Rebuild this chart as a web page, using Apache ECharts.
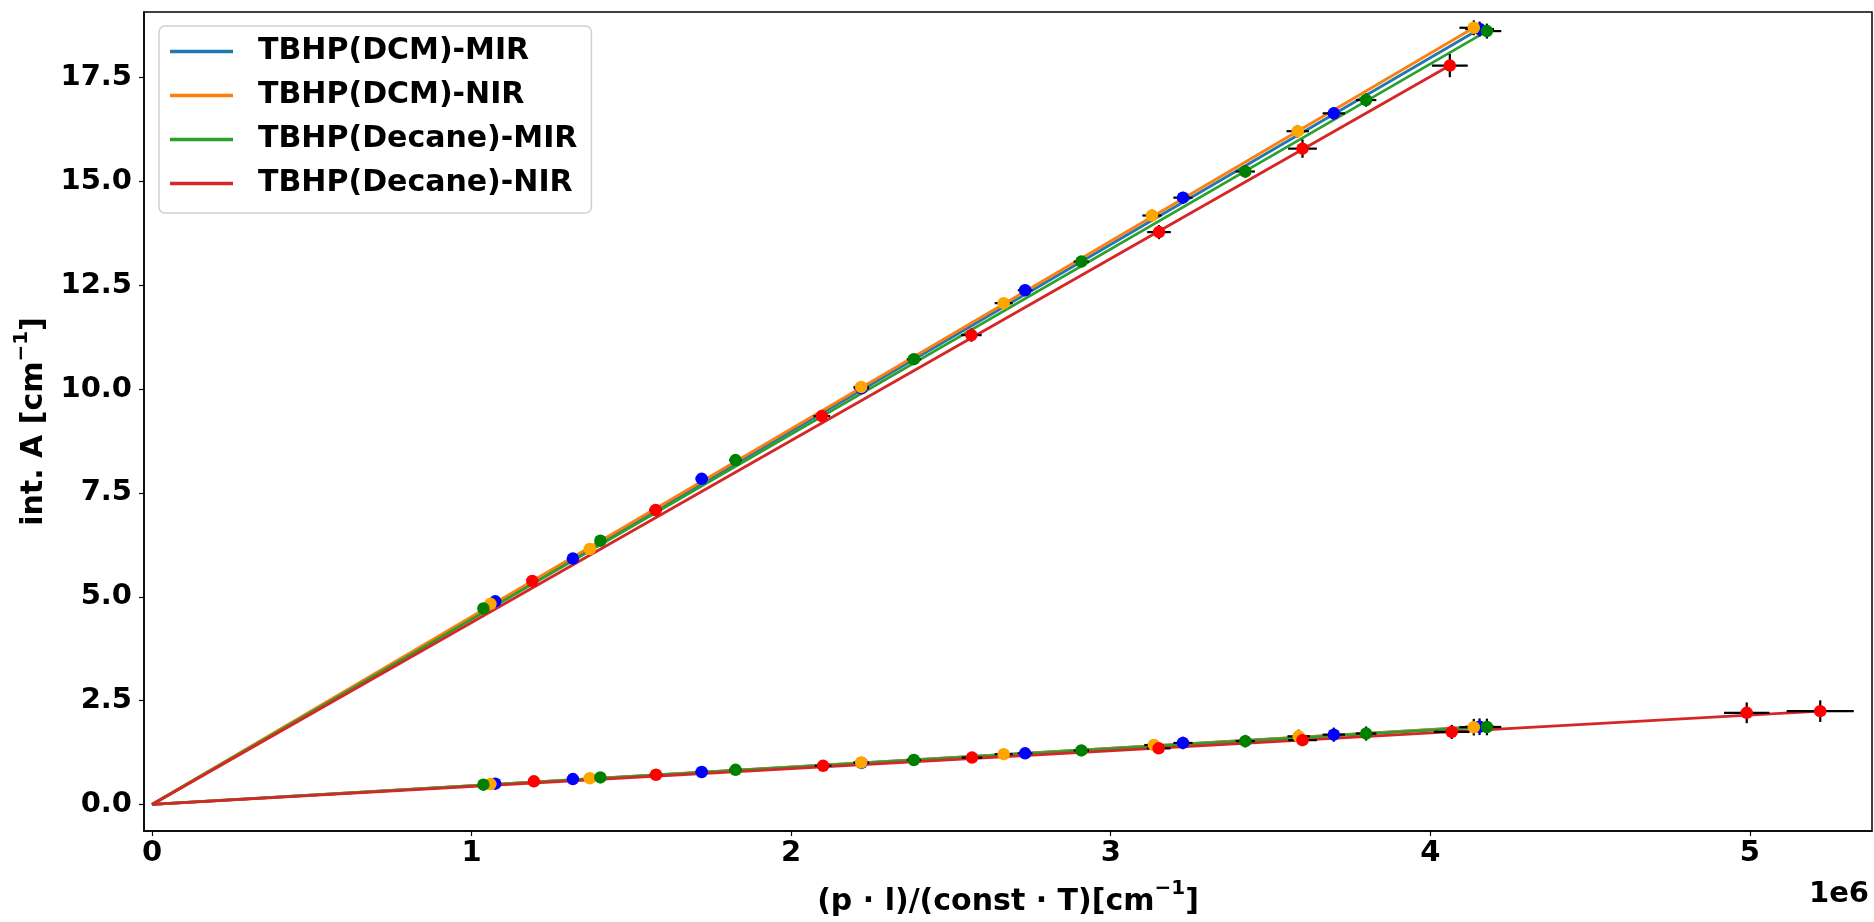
<!DOCTYPE html>
<html><head><meta charset="utf-8">
<script src="https://cdn.jsdelivr.net/npm/echarts@6/dist/echarts.min.js"></script>
<style>html,body{margin:0;padding:0;background:#fff}#c{width:1874px;height:922px}</style>
</head><body><div id="c"></div>
<script>
// ---------- DATA (x values in units of 1e6) ----------
const seriesNames = ['TBHP(DCM)-MIR', 'TBHP(DCM)-NIR', 'TBHP(Decane)-MIR', 'TBHP(Decane)-NIR'];
const xTickValues = [0, 1, 2, 3, 4, 5];
const yTickValues = [0, 2.5, 5, 7.5, 10, 12.5, 15, 17.5];

// TBHP(DCM)-MIR
const dcmMirUpperX = [1.074, 1.317, 1.72, 2.22, 2.732, 3.226, 3.698, 4.154];
const dcmMirUpperY = [4.89, 5.92, 7.84, 10.02, 12.38, 14.61, 16.64, 18.67];
const dcmMirLowerX = [1.074, 1.317, 1.72, 2.22, 2.732, 3.226, 3.698, 4.154];
const dcmMirLowerY = [0.50, 0.61, 0.78, 1.00, 1.23, 1.48, 1.68, 1.87];
const dcmMirXErr = [0.012, 0.015, 0.019, 0.024, 0.023, 0.03, 0.035, 0.045];
const dcmMirUpperYErr = [0.06, 0.07, 0.09, 0.11, 0.12, 0.14, 0.15, 0.18];
const dcmMirLowerYErr = [0.05, 0.06, 0.08, 0.10, 0.12, 0.15, 0.17, 0.20];
const dcmMirFitUpper = [4.154, 18.67];
const dcmMirFitLower = [4.154, 1.87];

// TBHP(DCM)-NIR
const dcmNirUpperX = [1.059, 1.37, 2.219, 2.665, 3.129, 3.585, 4.136];
const dcmNirUpperY = [4.83, 6.15, 10.05, 12.07, 14.18, 16.21, 18.70];
const dcmNirLowerX = [1.059, 1.37, 2.219, 2.665, 3.135, 3.588, 4.136];
const dcmNirLowerY = [0.49, 0.63, 1.01, 1.21, 1.43, 1.64, 1.86];
const dcmNirXErr = [0.012, 0.016, 0.024, 0.028, 0.03, 0.035, 0.045];
const dcmNirUpperYErr = [0.06, 0.07, 0.11, 0.12, 0.14, 0.15, 0.18];
const dcmNirLowerYErr = [0.05, 0.06, 0.10, 0.11, 0.13, 0.16, 0.20];
const dcmNirFitUpper = [4.136, 18.70];
const dcmNirFitLower = [4.136, 1.86];

// TBHP(Decane)-MIR
const decMirUpperX = [1.037, 1.403, 1.826, 2.384, 2.908, 3.421, 3.799, 4.177];
const decMirUpperY = [4.72, 6.35, 8.29, 10.72, 13.07, 15.24, 16.96, 18.62];
const decMirLowerX = [1.037, 1.403, 1.826, 2.384, 2.908, 3.421, 3.799, 4.177];
const decMirLowerY = [0.476, 0.65, 0.833, 1.07, 1.30, 1.524, 1.706, 1.865];
const decMirXErr = [0.012, 0.016, 0.02, 0.022, 0.024, 0.03, 0.032, 0.045];
const decMirUpperYErr = [0.06, 0.07, 0.09, 0.11, 0.13, 0.15, 0.16, 0.18];
const decMirLowerYErr = [0.05, 0.06, 0.08, 0.10, 0.12, 0.15, 0.17, 0.20];
const decMirFitUpper = [4.177, 18.62];
const decMirFitLower = [4.177, 1.865];

// TBHP(Decane)-NIR
const decNirUpperX = [1.19, 1.576, 2.096, 2.564, 3.151, 3.60, 4.061];
const decNirUpperY = [5.38, 7.09, 9.35, 11.30, 13.78, 15.79, 17.79];
const decNirLowerX = [1.195, 1.577, 2.10, 2.566, 3.15, 3.60, 4.067, 4.99, 5.22];
const decNirLowerY = [0.556, 0.714, 0.93, 1.127, 1.35, 1.548, 1.746, 2.206, 2.246];
const decNirUpperXErr = [0.015, 0.02, 0.026, 0.032, 0.037, 0.045, 0.056];
const decNirLowerXErr = [0.015, 0.02, 0.026, 0.032, 0.037, 0.045, 0.056, 0.071, 0.105];
const decNirUpperYErr = [0.08, 0.10, 0.13, 0.16, 0.17, 0.22, 0.28];
const decNirLowerYErr = [0.05, 0.06, 0.08, 0.10, 0.12, 0.14, 0.17, 0.25, 0.26];
const decNirFitUpper = [4.061, 17.79];
const decNirFitLower = [5.22, 2.246];

// ---------- STYLE ----------
const lineColors = ['#1f77b4', '#ff7f0e', '#2ca02c', '#d62728'];
const markerColors = ['#0000ff', '#ffa500', '#008000', '#ff0000'];
const FONT = 'DejaVu Sans';

const groups = [
  {up: [dcmMirUpperX, dcmMirUpperY, dcmMirXErr, dcmMirUpperYErr], lo: [dcmMirLowerX, dcmMirLowerY, dcmMirXErr, dcmMirLowerYErr], fitU: dcmMirFitUpper, fitL: dcmMirFitLower},
  {up: [dcmNirUpperX, dcmNirUpperY, dcmNirXErr, dcmNirUpperYErr], lo: [dcmNirLowerX, dcmNirLowerY, dcmNirXErr, dcmNirLowerYErr], fitU: dcmNirFitUpper, fitL: dcmNirFitLower},
  {up: [decMirUpperX, decMirUpperY, decMirXErr, decMirUpperYErr], lo: [decMirLowerX, decMirLowerY, decMirXErr, decMirLowerYErr], fitU: decMirFitUpper, fitL: decMirFitLower},
  {up: [decNirUpperX, decNirUpperY, decNirUpperXErr, decNirUpperYErr], lo: [decNirLowerX, decNirLowerY, decNirLowerXErr, decNirLowerYErr], fitU: decNirFitUpper, fitL: decNirFitLower}
];

function pts(arr) { return arr[0].map((x, i) => [x, arr[1][i], arr[2][i], arr[3][i]]); }

function errRender(params, api) {
  const x = api.value(0), y = api.value(1), ex = api.value(2), ey = api.value(3);
  const l = api.coord([x - ex, y]), r = api.coord([x + ex, y]);
  const t = api.coord([x, y + ey]), b = api.coord([x, y - ey]);
  const st = {stroke: '#000', lineWidth: 2.2};
  return {type: 'group', children: [
    {type: 'line', shape: {x1: l[0], y1: l[1], x2: r[0], y2: r[1]}, style: st},
    {type: 'line', shape: {x1: t[0], y1: t[1], x2: b[0], y2: b[1]}, style: st}
  ]};
}

const series = [];
groups.forEach((g, i) => {
  series.push({name: seriesNames[i], type: 'line', color: lineColors[i], showSymbol: false, symbol: 'none',
    data: [[0, 0], g.fitU], lineStyle: {width: 2.8, color: lineColors[i]}, z: 2 + i * 0.01, silent: true});
  series.push({name: seriesNames[i], type: 'line', color: lineColors[i], showSymbol: false, symbol: 'none',
    data: [[0, 0], g.fitL], lineStyle: {width: 2.8, color: lineColors[i]}, z: 2 + i * 0.01, silent: true});
});
groups.forEach((g, i) => {
  [g.up, g.lo].forEach((arr, k) => {
    const d = pts(arr);
    series.push({name: 'err' + i + k, type: 'custom', renderItem: errRender, data: d, z: 3,
      encode: {x: 0, y: 1}, silent: true});
    series.push({name: 'pt' + i + k, type: 'scatter', data: d.map(p => [p[0], p[1]]), symbolSize: 12.5,
      itemStyle: {color: markerColors[i], opacity: 1}, z: 4, silent: true});
  });
});

const richName = {
  n: {fontFamily: FONT, fontWeight: 'bold', fontSize: 30, color: '#000', lineHeight: 38, verticalAlign: 'bottom'},
  s: {fontFamily: FONT, fontWeight: 'bold', fontSize: 20, color: '#000', lineHeight: 38, verticalAlign: 'top'}
};

const chart = echarts.init(document.getElementById('c'), null, {renderer: 'canvas'});
chart.setOption({
  animation: false,
  backgroundColor: '#fff',
  grid: {left: 144, right: 2, top: 12, bottom: 81.5, show: true, borderColor: '#000', borderWidth: 1.5, backgroundColor: 'transparent'},
  legend: {
    data: seriesNames, left: 159, top: 26, orient: 'vertical', icon: 'rect',
    itemWidth: 63, itemHeight: 3.5, itemGap: 13,
    padding: [10, 14, 14, 11],
    borderColor: '#d0d0d0', borderWidth: 1.5, borderRadius: 6, backgroundColor: 'rgba(255,255,255,0.8)',
    textStyle: {fontFamily: FONT, fontWeight: 'bold', fontSize: 30, color: '#000', lineHeight: 31, padding: [0, 0, 0, 20]},
    selectedMode: false
  },
  xAxis: {
    type: 'value', min: -0.025, max: 5.382,
    axisLine: {show: true, onZero: false, lineStyle: {color: '#000', width: 1.5}},
    axisTick: {show: true, customValues: xTickValues, length: 5, lineStyle: {color: '#000', width: 1.2}},
    axisLabel: {customValues: xTickValues, margin: 8, fontFamily: FONT, fontWeight: 'bold', fontSize: 29, color: '#000',
      formatter: v => String(Math.round(v))},
    splitLine: {show: false},
    name: '{n|(p · l)/(const · T)[cm}{s|−1}{n|]}', nameLocation: 'middle', nameGap: 48,
    nameTextStyle: {fontFamily: FONT, fontWeight: 'bold', fontSize: 30, color: '#000', rich: richName}
  },
  yAxis: {
    type: 'value', min: -0.64, max: 19.08,
    axisLine: {show: true, onZero: false, lineStyle: {color: '#000', width: 1.5}},
    axisTick: {show: true, customValues: yTickValues, length: 5, lineStyle: {color: '#000', width: 1.2}},
    axisLabel: {customValues: yTickValues, margin: 12, fontFamily: FONT, fontWeight: 'bold', fontSize: 29, color: '#000',
      formatter: v => v.toFixed(1)},
    splitLine: {show: false},
    name: '{n|int. A [cm}{s|−1}{n|]}', nameLocation: 'middle', nameGap: 94,
    nameTextStyle: {fontFamily: FONT, fontWeight: 'bold', fontSize: 30, color: '#000', rich: richName}
  },
  graphic: [{type: 'text', right: 5, top: 880, style: {text: '1e6', font: 'bold 29px "DejaVu Sans"', fill: '#000'}}],
  series: series
});
</script></body></html>
